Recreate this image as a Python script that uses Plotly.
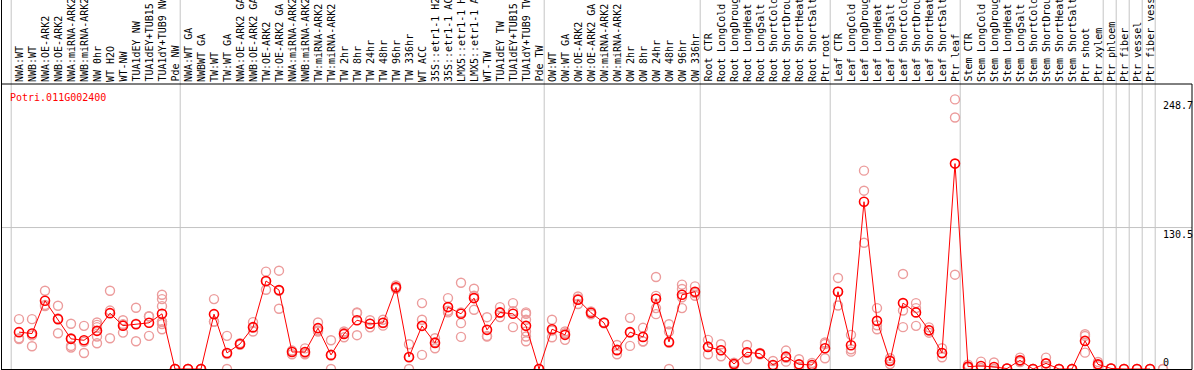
import plotly.graph_objects as go

# ---------------- data ----------------
gene_id = "Potri.011G002400"

categories = [
    "NWA:WT", "NWB:WT", "NWA:OE-ARK2", "NWB:OE-ARK2", "NWA:miRNA-ARK2", "NWB:miRNA-ARK2",
    "NW 0hr", "WT H2O", "WT-NW", "TUA1dEY NW", "TUA1dEY+TUB15 NW", "TUA1dY+TUB9 NW", "Pde NW",
    "NWA:WT GA", "NWBWT GA", "TW:WT", "TW:WT GA", "NWA:OE-ARK2 GA", "NWB:OE-ARK2 GA",
    "TW:OE-ARK2", "TW:OE-ARK2 GA", "NWA:miRNA-ARK2 GA", "NWB:miRNA-ARK2 GA", "TW:miRNA-ARK2",
    "TW:miRNA-ARK2 GA", "TW 2hr", "TW 8hr", "TW 24hr", "TW 48hr", "TW 96hr", "TW 336hr",
    "WT ACC", "35S::etr1-1 H2O", "35S::etr1-1 ACC", "LMX5::etr1-1 H2O", "LMX5::etr1-1 ACC",
    "WT-TW", "TUA1dEY TW", "TUA1dEY+TUB15 TW", "TUA1dY+TUB9 TW", "Pde TW",
    "OW:WT", "OW:WT GA", "OW:OE-ARK2", "OW:OE-ARK2 GA", "OW:miRNA-ARK2", "OW:miRNA-ARK2 GA",
    "OW 2hr", "OW 8hr", "OW 24hr", "OW 48hr", "OW 96hr", "OW 336hr",
    "Root CTR", "Root LongCold", "Root LongDrought", "Root LongHeat", "Root LongSalt",
    "Root ShortCold", "Root ShortDrought", "Root ShortHeat", "Root ShortSalt", "Ptr root",
    "Leaf CTR", "Leaf LongCold", "Leaf LongDrought", "Leaf LongHeat", "Leaf LongSalt",
    "Leaf ShortCold", "Leaf ShortDrought", "Leaf ShortHeat", "Leaf ShortSalt", "Ptr leaf",
    "Stem CTR", "Stem LongCold", "Stem LongDrought", "Stem LongHeat", "Stem LongSalt",
    "Stem ShortCold", "Stem ShortDrought", "Stem ShortHeat", "Stem ShortSalt",
    "Ptr shoot", "Ptr xylem", "Ptr phloem", "Ptr fiber", "Ptr vessel", "Ptr fiber vessel",
]

mean_values = [
    34.0, 32.7, 63.0, 46.0, 27.8, 26.5, 35.2, 51.5, 40.0, 41.3, 42.6, 50.9, 0.0,
    0.0, 0.0, 50.6, 14.8, 23.1, 38.6, 81.2, 72.8, 15.7, 15.7, 37.7, 13.0, 32.4, 45.0,
    41.7, 42.6, 75.3, 11.1, 39.8, 24.1, 57.1, 50.9, 65.4, 36.1, 52.2, 50.9, 39.8, 0.0,
    36.7, 31.5, 63.9, 51.9, 42.6, 17.6, 34.0, 29.6, 64.8, 25.0, 68.5, 71.3,
    20.4, 17.3, 4.6, 15.4, 14.2, 3.7, 11.4, 4.3, 3.7, 19.1,
    71.3, 21.9, 154.3, 44.4, 7.4, 60.8, 52.2, 35.8, 14.8, 189.5,
    2.2, 2.8, 1.9, 0.4, 8.0, 0.0, 5.2, 0.0, 0.0, 25.9, 4.3, 0.5, 0.0, 0.0, 0.0, 0.0,
]

replicate_values = [
    [46, 28.4, 27.6], [46, 31, 21], [72.2, 59, 58], [58.3, 33, 46.7],
    [41.7, 21.3, 19.8, 28.4], [39.8, 25, 14.8], [42.9, 40.7, 30, 23.8, 38.6],
    [72.2, 53.9, 28.4], [45, 33.6, 41.4], [56.5, 25.6, 41.8], [48.5, 30.6, 48.7],
    [68.5, 64.5, 58, 43.5, 41.5, 36.7, 43.6], [0, 0, 0],
    [0, 0, 0], [0, 0, 0], [64.5, 43.8, 43.5], [30.6, 0, 13.8], [23.9, 22.3, 23.1],
    [43.2, 34.6, 38], [89.8, 73.1, 80.7], [90.7, 55.6, 72.1], [17, 13.6, 16.5],
    [19, 13.6, 14.5], [42.9, 34.6, 35.6], [26.5, 0, 12.5], [34.6, 29.3, 33.3],
    [52.2, 31.2, 51.6], [45, 38.4, 41.7], [45.4, 40, 42.4], [77, 74, 75],
    [22.8, 0, 10.5], [60.8, 45.4, 13], [28.4, 19.1, 24.8], [65.4, 52.2, 53.7],
    [79.6, 42.3, 29.6, 52.1], [74, 54.6, 67.6], [47.8, 30, 30.5], [57.1, 47.9, 51.6],
    [60.8, 38.6, 53.3], [52.2, 51, 34.6, 30, 25.6, 45.4], [0, 0, 0],
    [45.4, 29.3, 35.4], [34.6, 26.9, 33], [66.9, 60, 64.8], [53, 50.5, 52.2],
    [43, 42.2, 42.6], [22.2, 13.6, 17], [47.2, 21.3, 33.5], [38, 25.3, 25.5],
    [84.9, 56.2, 50.6, 67.5], [41.3, 34.6, 0, 24.1], [77.8, 73.8, 56.2, 66.2],
    [76.2, 67.6, 70.1],
    [26.9, 13.6, 20.7], [22.8, 11.7, 17.4], [5.8, 3.4, 4.6], [22.2, 9, 15],
    [14.8, 13.6, 14.2], [7.4, 0.8, 2.9], [17, 6.8, 10.4], [9, 1.8, 2.1],
    [5.5, 2, 3.6], [24.4, 9.9, 23],
    [84, 58.6, 71.3], [31.5, 18.2, 16], [183, 164.5, 116.4], [56.2, 36.7, 40.3],
    [9.9, 4.5, 7.8], [87.7, 54, 38.6], [60.8, 56.2, 39.8], [38.4, 33.5, 35.5],
    [19.1, 10.8, 14.5], [248.7, 232, 87],
    [4, 1.2, 1.4], [6.8, 0.8, 0.8], [6, 0, 0], [0.6, 0.3, 0.3], [10.5, 6.5, 7],
    [0, 0, 0], [10.5, 2.5, 2.6], [0, 0, 0], [0, 0, 0], [32.1, 15.1, 30.5],
    [6.5, 2.5, 4], [0.5, 0.5], [0, 0], [0, 0], [0, 0], [0, 0],
]

# last sample index of each block (separator lines drawn just after these)
group_ends = [-1, 12, 40, 52, 62, 72, 83, 84, 85, 86, 87]

axis_labels = ["248.7", "130.5", "0"]
axis_values = [248.7, 130.5, 0]

# ---------------- layout helpers ----------------
W, H = 1194, 370
PX0, PX_STEP = 19.0, 13.0          # pixel of first category, spacing
Y_ZERO_PX, Y_SCALE = 369.0, 1.084   # pixel of value 0, pixels per unit
TOP_PX = 84.0                       # top frame line
RIGHT_PX = 1192.0

def px_x(p):
    return p / W

def px_y(p):
    return (H - p) / H

x_range = [(0 - PX0) / PX_STEP, (W - PX0) / PX_STEP]
y_range = [(Y_ZERO_PX - H) / Y_SCALE, (Y_ZERO_PX - TOP_PX) / Y_SCALE]

MONO = "DejaVu Sans Mono"
GRID = "#c4c4c4"
PALE = "#ec9c9c"
RED = "#ff0000"

fig = go.Figure()

# replicate points
rx, ry = [], []
for i, reps in enumerate(replicate_values):
    for v in reps:
        rx.append(i)
        ry.append(v)
fig.add_trace(go.Scatter(
    x=rx, y=ry, mode="markers", cliponaxis=False,
    marker=dict(symbol="circle-open", size=9, color=PALE, line=dict(width=1.4, color=PALE)),
    hoverinfo="skip", showlegend=False,
))

# mean line
fig.add_trace(go.Scatter(
    x=list(range(len(categories))), y=mean_values, mode="lines+markers", cliponaxis=False,
    line=dict(color=RED, width=1),
    marker=dict(symbol="circle-open", size=9, color=RED, line=dict(width=1.6, color=RED)),
    text=categories, showlegend=False,
))

shapes = []
# vertical separators (full height, through label area)
for g in group_ends:
    shapes.append(dict(type="line", xref="x", yref="paper", x0=g + 0.4, x1=g + 0.4,
                       y0=px_y(Y_ZERO_PX), y1=1, line=dict(color=GRID, width=1), layer="below"))
# horizontal grid line at mid value
shapes.append(dict(type="line", xref="paper", yref="y", x0=px_x(1), x1=px_x(RIGHT_PX),
                   y0=axis_values[1], y1=axis_values[1], line=dict(color=GRID, width=1), layer="below"))
# frame
blk = dict(color="black", width=1)
shapes.append(dict(type="line", xref="paper", yref="paper", x0=px_x(1.5), x1=px_x(1.5),
                   y0=px_y(Y_ZERO_PX + 0.5), y1=1, line=blk))
shapes.append(dict(type="line", xref="paper", yref="paper", x0=px_x(1), x1=px_x(RIGHT_PX),
                   y0=px_y(TOP_PX), y1=px_y(TOP_PX), line=blk))
shapes.append(dict(type="line", xref="paper", yref="paper", x0=px_x(1), x1=px_x(RIGHT_PX),
                   y0=px_y(Y_ZERO_PX + 0.5), y1=px_y(Y_ZERO_PX + 0.5), line=blk))
shapes.append(dict(type="line", xref="paper", yref="paper", x0=px_x(RIGHT_PX), x1=px_x(RIGHT_PX),
                   y0=px_y(Y_ZERO_PX + 0.5), y1=px_y(TOP_PX), line=blk))

annotations = []
for i, name in enumerate(categories):
    annotations.append(dict(
        x=i, xref="x", y=px_y(TOP_PX - 1), yref="paper", text=name, showarrow=False,
        textangle=-90, xanchor="center", yanchor="bottom", borderpad=0,
        font=dict(family=MONO, size=10, color="black"),
    ))
# title
annotations.append(dict(x=px_x(9), y=px_y(97), xref="paper", yref="paper", text=gene_id,
                        showarrow=False, xanchor="left", yanchor="middle", borderpad=0,
                        font=dict(family=MONO, size=10, color=RED)))
# right value labels
for lab, val in zip(axis_labels, axis_values):
    annotations.append(dict(x=px_x(1162), xref="paper", y=val, yref="y", text=lab,
                            showarrow=False, xanchor="left",
                            yanchor="bottom" if val == 0 else "top", borderpad=0,
                            font=dict(family=MONO, size=10, color="black")))

fig.update_layout(
    width=W, height=H, margin=dict(l=0, r=0, t=0, b=0),
    paper_bgcolor="white", plot_bgcolor="white",
    xaxis=dict(range=x_range, domain=[0, 1], showgrid=False, zeroline=False,
               showticklabels=False, ticks="", fixedrange=True),
    yaxis=dict(range=y_range, domain=[0, px_y(TOP_PX)], showgrid=False, zeroline=False,
               showticklabels=False, ticks="", fixedrange=True),
    shapes=shapes, annotations=annotations, hovermode="closest",
)

fig.write_html(
    "out.html",
    config={"displayModeBar": False},
    post_script="document.body.style.margin='0px';document.body.style.padding='0px';",
)
